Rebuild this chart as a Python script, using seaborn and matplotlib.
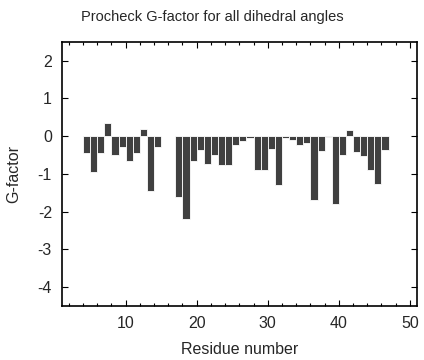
import matplotlib
matplotlib.use("Agg")
import matplotlib.pyplot as plt
import seaborn as sns
from matplotlib.ticker import MultipleLocator

# G-factor per residue (residues 15-16 have no value)
residues = [4, 5, 6, 7, 8, 9, 10, 11, 12, 13, 14,
            17, 18, 19, 20, 21, 22, 23, 24, 25, 26, 27, 28, 29, 30, 31,
            32, 33, 34, 35, 36, 37, 38, 39, 40, 41, 42, 43, 44, 45, 46]
gfactor = [-0.46, -0.95, -0.46, 0.36, -0.50, -0.30, -0.66, -0.46, 0.19, -1.46, -0.30,
           -1.60, -2.19, -0.66, -0.36, -0.75, -0.49, -0.77, -0.77, -0.24, -0.13, -0.06, -0.89, -0.89, -0.33, -1.29,
           -0.04, -0.09, -0.23, -0.18, -1.68, -0.39, -0.02, -1.79, -0.49, 0.16, -0.42, -0.52, -0.90, -1.26, -0.37]

x_ticks = [10, 20, 30, 40, 50]
y_ticks = [-4, -3, -2, -1, 0, 1, 2]

sns.set_theme(style="ticks")
plt.rcParams["font.family"] = ["Liberation Sans", "DejaVu Sans"]
plt.rcParams["axes.unicode_minus"] = False

fig = plt.figure(figsize=(4.24, 3.6), dpi=100)
ax = fig.add_axes([0.1455, 0.15, 0.838, 0.734])

sns.histplot(
    x=residues,
    weights=gfactor,
    binwidth=1,
    binrange=(4, 47),
    color="#404040",
    alpha=1,
    edgecolor="white",
    linewidth=0.6,
    ax=ax,
)

ax.set_xlim(1, 51)
ax.set_ylim(-4.5, 2.5)
ax.set_xticks(x_ticks)
ax.set_yticks(y_ticks)
ax.xaxis.set_minor_locator(MultipleLocator(2))

ax.tick_params(which="both", direction="in", top=True, right=True,
               labelsize=11.5, color="black", width=0.8)
ax.tick_params(which="major", length=4, pad=7)
ax.tick_params(which="minor", length=2.5)
for spine in ax.spines.values():
    spine.set_visible(True)
    spine.set_linewidth(1.2)
    spine.set_color("black")

# title is centred on the whole figure, not on the axes
fig.suptitle("Procheck G-factor for all dihedral angles", fontsize=10.5,
             x=0.5, y=0.953, va="center")
ax.set_xlabel("Residue number", fontsize=11.5, labelpad=8)
ax.set_ylabel("G-factor", fontsize=11.5, labelpad=12)

fig.savefig("out.png", dpi=100)
